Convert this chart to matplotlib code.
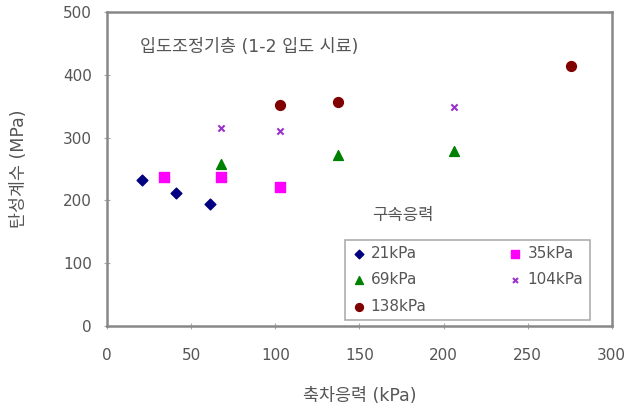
import matplotlib
matplotlib.use('Agg')
import matplotlib.pyplot as plt

plt.rcParams['font.family'] = ['DejaVu Sans', 'Noto Sans CJK KR']

# 구속응력별 데이터 (축차응력 kPa, 탄성계수 MPa)
x_21 = [21, 41, 61]
y_21 = [232, 212, 194]
x_35 = [34, 68, 103]
y_35 = [237, 237, 221]
x_69 = [68, 137, 206]
y_69 = [258, 272, 279]
x_104 = [68, 103, 206]
y_104 = [315, 310, 349]
x_138 = [103, 137, 276]
y_138 = [352, 357, 414]

labels = ['21kPa', '35kPa', '69kPa', '104kPa', '138kPa']

fig = plt.figure(figsize=(6.3, 4.09), dpi=100)
ax = fig.add_axes([0.170, 0.203, 0.801, 0.768])

h21 = ax.scatter(x_21, y_21, marker='D', s=30, color='#000080', label=labels[0])
h35 = ax.scatter(x_35, y_35, marker='s', s=45, color='#FF00FF', label=labels[1])
h69 = ax.scatter(x_69, y_69, marker='^', s=50, color='#008000', label=labels[2])
h104 = ax.scatter(x_104, y_104, marker='x', s=20, color='#9933CC', linewidths=1.5, label=labels[3])
h138 = ax.scatter(x_138, y_138, marker='o', s=50, color='#800000', label=labels[4])

ax.set_xlim(0, 300)
ax.set_ylim(0, 500)
ax.set_xticks(range(0, 301, 50))
ax.set_yticks(range(0, 501, 100))

for s in ax.spines.values():
    s.set_color('#888888')
    s.set_linewidth(1.8)
ax.tick_params(direction='inout', length=4, color='#aaaaaa', labelsize=11,
               labelcolor='#555555', pad=9)
ax.tick_params(axis='x', pad=14)

ax.set_xlabel('축차응력 (kPa)', fontsize=12.5, color='#555555', labelpad=17)
ax.set_ylabel('탄성계수 (MPa)', fontsize=12.5, color='#555555', labelpad=25)

ax.text(0.065, 0.889, '입도조정기층 (1-2 입도 시료)', transform=ax.transAxes,
        fontsize=12.5, color='#555555', va='center')
ax.text(0.586, 0.354, '구속응력', transform=ax.transAxes,
        fontsize=12, color='#555555', ha='center', va='center')

leg = ax.legend([h21, h69, h138, h35, h104],
                [labels[0], labels[2], labels[4], labels[1], labels[3]],
                ncol=2, loc='lower left', mode='expand',
                bbox_to_anchor=(0.471, 0.019, 0.485, 0.277),
                fontsize=11, frameon=True, fancybox=False, markerscale=0.8,
                handlelength=1.0, handletextpad=0.3, borderaxespad=0,
                labelspacing=0.75, borderpad=0.4)
leg.get_frame().set_edgecolor('#999999')
leg.get_frame().set_linewidth(1.2)
for t in leg.get_texts():
    t.set_color('#555555')

fig.savefig('out.png', dpi=100)
